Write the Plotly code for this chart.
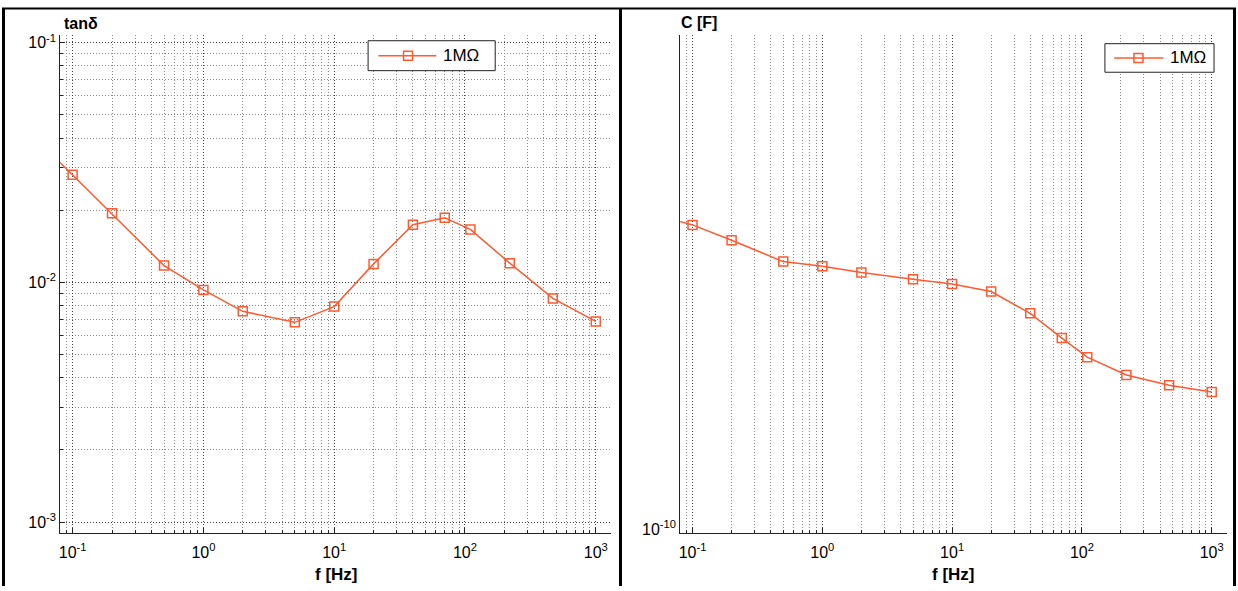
import plotly.graph_objects as go

# ---------------- data ----------------
freq_hz = [0.05, 0.1, 0.2, 0.5, 1, 2, 5, 10, 20, 40, 70, 110, 220, 470, 1000]
tan_delta = [0.0408, 0.0281, 0.0194, 0.01175, 0.0093, 0.00757, 0.00681, 0.00792,
             0.01194, 0.01738, 0.01858, 0.01663, 0.01202, 0.00857, 0.00687]
capacitance_f = [1.531e-10, 1.509e-10, 1.478e-10, 1.436e-10, 1.427e-10, 1.415e-10,
                 1.402e-10, 1.393e-10, 1.379e-10, 1.339e-10, 1.295e-10, 1.262e-10,
                 1.232e-10, 1.215e-10, 1.204e-10]
series_name = "1MΩ"
x_tick_vals = [0.1, 1, 10, 100, 1000]
x_tick_text = ["10<sup>-1</sup>", "10<sup>0</sup>", "10<sup>1</sup>", "10<sup>2</sup>", "10<sup>3</sup>"]
tan_tick_vals = [0.001, 0.01, 0.1]
tan_tick_text = ["10<sup>-3</sup>", "10<sup>-2</sup>", "10<sup>-1</sup>"]
c_tick_vals = [1e-10]
c_tick_text = ["10<sup>-10</sup>"]

# ---------------- styling ----------------
W, H = 1238, 591
ORANGE = "#FF5A30"
FONT = "Arial, Liberation Sans, sans-serif"
DOT = "1px,2px"


def px(x):
    return x / W


def py(y):
    return 1 - y / H


x_minor = [0.08, 0.09] + [m * 10 ** e for e in range(-1, 3) for m in range(2, 10)]
y_minor = [m * 10 ** e for e in range(-3, -1) for m in range(2, 10)]

dom_y = [py(537), py(31.7)]
dom_x1 = [px(58.3), px(609.8)]
dom_x2 = [px(679.3), px(1226.6)]

fig = go.Figure()
fig.add_trace(go.Scatter(
    x=freq_hz, y=tan_delta, mode="lines+markers", name=series_name,
    line=dict(color=ORANGE, width=1.5),
    marker=dict(symbol="square-open", size=9, color=ORANGE, line=dict(width=1.5)),
    xaxis="x", yaxis="y", showlegend=False))
fig.add_trace(go.Scatter(
    x=freq_hz, y=capacitance_f, mode="lines+markers", name=series_name,
    line=dict(color=ORANGE, width=1.5),
    marker=dict(symbol="square-open", size=9, color=ORANGE, line=dict(width=1.5)),
    xaxis="x2", yaxis="y2", showlegend=False))

xcommon = dict(
    type="log", range=[-1.095, 3.115], tickmode="array",
    tickvals=x_tick_vals, ticktext=x_tick_text,
    showline=True, linecolor="#222", linewidth=1, mirror=False,
    ticks="inside", ticklen=5, tickcolor="#222", ticklabelstandoff=5,
    showgrid=True, gridcolor="#444", griddash=DOT, gridwidth=1,
    tickfont=dict(family=FONT, size=16, color="black"),
    minor=dict(tickmode="array", tickvals=x_minor, ticks="inside", ticklen=3,
               tickcolor="#222", showgrid=True, gridcolor="#888", griddash=DOT),
    zeroline=False,
)

fig.update_layout(
    width=W, height=H,
    margin=dict(l=0, r=0, t=0, b=0),
    paper_bgcolor="white", plot_bgcolor="white",
    font=dict(family=FONT, size=16, color="black"),
    showlegend=False,
    xaxis=dict(domain=dom_x1, anchor="y", **xcommon),
    xaxis2=dict(domain=dom_x2, anchor="y2", **xcommon),
    yaxis=dict(
        domain=dom_y, anchor="x", type="log", range=[-3.045, -0.969],
        tickmode="array", tickvals=tan_tick_vals, ticktext=tan_tick_text,
        showline=True, linecolor="#222", linewidth=1,
        ticks="inside", ticklen=5, tickcolor="#222",
        showgrid=True, gridcolor="#444", griddash=DOT,
        tickfont=dict(family=FONT, size=16, color="black"),
        minor=dict(tickmode="array", tickvals=y_minor, ticks="inside", ticklen=3,
                   tickcolor="#222", showgrid=True, gridcolor="#888", griddash=DOT),
        zeroline=False,
    ),
    yaxis2=dict(
        domain=dom_y, anchor="x2", type="log", range=[-10.002, -9.71],
        tickmode="array", tickvals=c_tick_vals, ticktext=c_tick_text,
        showline=True, linecolor="#222", linewidth=1,
        ticks="", showgrid=False,
        tickfont=dict(family=FONT, size=16, color="black"),
        zeroline=False,
    ),
)

shapes = []
# outer black frames
frame = dict(type="line", xref="paper", yref="paper", line=dict(color="black", width=3))
shapes.append(dict(frame, x0=px(1.5), x1=px(1.5), y0=py(4), y1=py(591)))
shapes.append(dict(frame, x0=px(619.5), x1=px(619.5), y0=py(4), y1=py(591)))
shapes.append(dict(frame, x0=px(1234.5), x1=px(1234.5), y0=py(4), y1=py(591)))
shapes.append(dict(frame, x0=px(0), x1=px(1236), y0=py(4.5), y1=py(4.5), line=dict(color="black", width=2)))


def legend_box(x0, x1, y0, y1, lx0, lx1, mx, tx):
    yc = (y0 + y1) / 2
    shapes.append(dict(type="rect", xref="paper", yref="paper",
                       x0=px(x0), x1=px(x1), y0=py(y1), y1=py(y0),
                       line=dict(color="#222", width=1), fillcolor="white"))
    shapes.append(dict(type="line", xref="paper", yref="paper",
                       x0=px(lx0), x1=px(lx1), y0=py(yc), y1=py(yc),
                       line=dict(color=ORANGE, width=1.5)))
    shapes.append(dict(type="rect", xref="paper", yref="paper",
                       x0=px(mx - 4.5), x1=px(mx + 4.5), y0=py(yc + 4.5), y1=py(yc - 4.5),
                       line=dict(color=ORANGE, width=1.5)))
    fig.add_annotation(x=px(tx), y=py(yc), xref="paper", yref="paper",
                       text=series_name, showarrow=False, xanchor="left", yanchor="middle",
                       font=dict(family=FONT, size=17, color="black"))


legend_box(366.7, 494, 37.3, 67.7, 377, 435, 406.7, 440)
legend_box(1104.7, 1214, 40.3, 69.3, 1114, 1163.3, 1138.3, 1168)

fig.update_layout(shapes=shapes)

# titles
fig.add_annotation(x=px(60), y=py(20), xref="paper", yref="paper", text="<b>tanδ</b>",
                   showarrow=False, xanchor="left", yanchor="middle",
                   font=dict(family=FONT, size=16, color="black"))
fig.add_annotation(x=px(678), y=py(19), xref="paper", yref="paper", text="<b>C [F]</b>",
                   showarrow=False, xanchor="left", yanchor="middle",
                   font=dict(family=FONT, size=16, color="black"))
for cx in [(58.3 + 609.8) / 2, (679.3 + 1226.6) / 2]:
    fig.add_annotation(x=px(cx), y=py(579), xref="paper", yref="paper", text="<b>f [Hz]</b>",
                       showarrow=False, xanchor="center", yanchor="middle",
                       font=dict(family=FONT, size=17, color="black"))

fig.write_html(
    "out.html",
    config={"displayModeBar": False},
    post_script="document.body.style.margin='0';"
                "document.body.style.overflow='hidden';"
                "document.documentElement.style.overflow='hidden';",
)
